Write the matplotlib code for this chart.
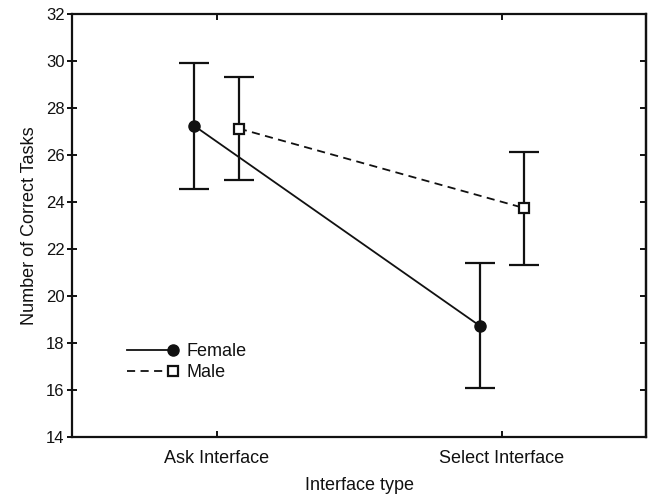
import numpy as np
import matplotlib
matplotlib.use("Agg")
import matplotlib.pyplot as plt
from matplotlib.legend_handler import HandlerLine2DCompound

plt.rcParams['font.family'] = ['Liberation Sans', 'DejaVu Sans']

interfaces = ["Ask Interface", "Select Interface"]
female_mean = [27.23, 18.74]
female_err = [2.66, 2.66]
male_mean = [27.12, 23.74]
male_err = [2.17, 2.40]


class EndMarkerHandler(HandlerLine2DCompound):
    # line across the handle, marker sitting at its right end
    def create_artists(self, legend, orig_handle, xdescent, ydescent,
                       width, height, fontsize, trans):
        arts = super().create_artists(legend, orig_handle, xdescent, ydescent,
                                      width, height, fontsize, trans)
        marker = arts[-1]
        marker.set_xdata([width - xdescent])
        return arts


fig = plt.figure(figsize=(6.51, 4.95), dpi=100)
ax = fig.add_axes([72.3 / 651, 1 - 437.3 / 495, (645.7 - 72.3) / 651, (437.3 - 13.7) / 495])

x = np.arange(len(interfaces))
off = 0.078

fem = ax.errorbar(x - off, female_mean, yerr=female_err, color='#111111', lw=1.3,
                  elinewidth=1.6, capsize=11, capthick=1.6, marker='o', ms=8,
                  mfc='#111111', mec='#111111', ls='-', label='Female')
mal = ax.errorbar(x + off, male_mean, yerr=male_err, color='#111111', lw=1.3,
                  elinewidth=1.6, capsize=11, capthick=1.6, marker='s', ms=7,
                  mfc='white', mec='#111111', mew=1.6, ls=(0, (4.5, 3)), label='Male')

ax.set_xlim(-0.506, 1.504)
ax.set_ylim(14, 32)
ax.set_yticks(np.arange(14, 33, 2))
ax.set_xticks(x)
ax.set_xticklabels(interfaces)

ax.tick_params(axis='y', which='both', direction='inout', length=7, width=1.4,
               labelsize=12, right=False, pad=2, colors='#111111')
ax.tick_params(axis='x', which='both', direction='in', length=4, width=1.4,
               labelsize=13, top=True, pad=9.5, colors='#111111')
ax2 = ax.secondary_yaxis('right')
ax2.set_yticks(np.arange(14, 33, 2))
ax2.tick_params(direction='in', length=4, width=1.4, labelright=False, colors='#111111')
ax2.spines['right'].set_linewidth(1.6)
ax2.spines['right'].set_color('#111111')

for s in ax.spines.values():
    s.set_linewidth(1.6)
    s.set_color('#111111')

ax.set_xlabel("Interface type", fontsize=13, labelpad=6.5, color='#111111')
ax.set_ylabel("Number of Correct Tasks", fontsize=13, labelpad=6, color='#111111')

leg = ax.legend(handles=[fem.lines[0], mal.lines[0]], labels=['Female', 'Male'],
                handler_map={fem.lines[0]: EndMarkerHandler(numpoints=1),
                             mal.lines[0]: EndMarkerHandler(numpoints=1)},
                loc='center left', bbox_to_anchor=(0.0954, 0.177), frameon=False,
                borderpad=0, borderaxespad=0, fontsize=13, handlelength=2.55,
                handletextpad=0.75, labelspacing=0.22)
for t in leg.get_texts():
    t.set_color('#111111')

fig.savefig("out.png", dpi=100)
